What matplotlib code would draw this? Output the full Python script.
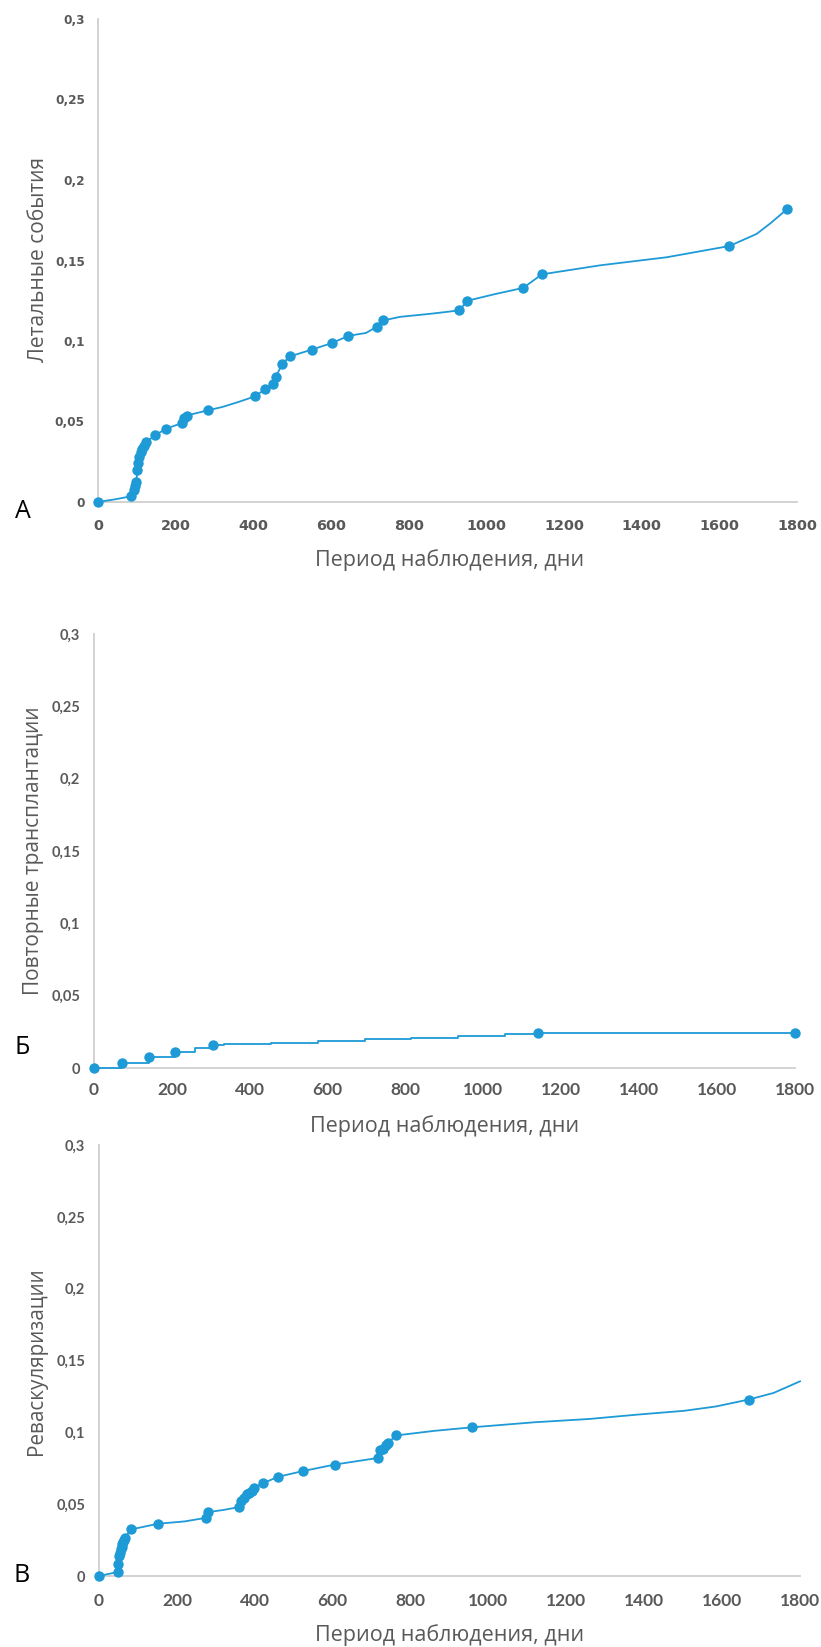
import matplotlib
matplotlib.use("Agg")
import matplotlib.pyplot as plt

# ---------------- data ----------------
x_ticks = [0, 200, 400, 600, 800, 1000, 1200, 1400, 1600, 1800]
y_ticks = [0, 0.05, 0.1, 0.15, 0.2, 0.25, 0.3]
y_tick_labels = ["0", "0,05", "0,1", "0,15", "0,2", "0,25", "0,3"]
x_label = "Период наблюдения, дни"

# Panel A – lethal events (curve and marked points)
a_line_t = [0, 45, 84, 93, 99, 101, 106, 110, 118, 123, 147, 175, 216, 222, 228, 284,
            320, 360, 404, 430, 450, 458, 475, 494, 550, 602, 645, 690, 718, 735,
            778, 860, 930, 951, 1020, 1095, 1143, 1293, 1464, 1626, 1696, 1731, 1775]
a_line_v = [0, 0.0017, 0.0035, 0.0075, 0.0126, 0.0199, 0.028, 0.031, 0.035, 0.037,
            0.0414, 0.0455, 0.049, 0.052, 0.0537, 0.057, 0.059, 0.062, 0.0656, 0.070,
            0.0733, 0.0778, 0.086, 0.0904, 0.0946, 0.0987, 0.1032, 0.105, 0.1088,
            0.1128, 0.115, 0.117, 0.119, 0.125, 0.129, 0.133, 0.1414, 0.147, 0.152,
            0.159, 0.1665, 0.173, 0.182]
a_mark_t = [0, 84, 93, 96, 99, 101, 104, 106, 110, 114, 118, 123, 147, 175, 216, 222,
            228, 284, 404, 430, 450, 458, 475, 494, 550, 602, 645, 718, 735, 930, 951,
            1095, 1143, 1626, 1775]
a_mark_v = [0, 0.0035, 0.0075, 0.010, 0.0126, 0.0199, 0.024, 0.028, 0.031, 0.033,
            0.035, 0.037, 0.0414, 0.0455, 0.049, 0.052, 0.0537, 0.057, 0.0656, 0.070,
            0.0733, 0.0778, 0.086, 0.0904, 0.0946, 0.0987, 0.1032, 0.1088, 0.1128,
            0.119, 0.125, 0.133, 0.1414, 0.159, 0.182]

# Panel Б – repeat transplantations (staircase)
b_line_t = [0, 72, 141, 209, 260, 306, 335, 455, 576, 695, 813, 935, 1056, 1140, 1800]
b_line_v = [0, 0.0037, 0.0078, 0.0113, 0.0135, 0.0159, 0.0165, 0.0175, 0.0187,
            0.0198, 0.021, 0.0223, 0.0234, 0.024, 0.024]
b_mark_t = [0, 72, 141, 209, 306, 1140, 1800]
b_mark_v = [0, 0.0037, 0.0078, 0.0113, 0.0159, 0.024, 0.024]

# Panel В – revascularizations
c_line_t = [0, 48, 50, 52, 56, 60, 64, 67, 82, 152, 220, 275, 281, 320, 360, 364,
            379, 392, 399, 420, 459, 523, 606, 717, 721, 730, 743, 762, 860, 958,
            1118, 1259, 1381, 1503, 1584, 1668, 1732, 1800]
c_line_v = [0, 0.0028, 0.0081, 0.0139, 0.0185, 0.022, 0.025, 0.0266, 0.0324, 0.0364,
            0.038, 0.0405, 0.0445, 0.046, 0.048, 0.052, 0.0568, 0.0595, 0.0614,
            0.0644, 0.069, 0.073, 0.0776, 0.0822, 0.0876, 0.0885, 0.0927, 0.0978,
            0.101, 0.1035, 0.107, 0.1093, 0.1123, 0.115, 0.118, 0.1228, 0.1274, 0.1355]
c_mark_t = [0, 48, 50, 52, 54, 56, 58, 60, 62, 64, 67, 82, 152, 275, 281, 360, 364,
            372, 379, 386, 392, 399, 420, 459, 523, 606, 717, 721, 730, 736, 743, 762,
            958, 1668]
c_mark_v = [0, 0.0028, 0.0081, 0.0139, 0.016, 0.0185, 0.020, 0.022, 0.0235, 0.025,
            0.0266, 0.0324, 0.0364, 0.0405, 0.0445, 0.048, 0.052, 0.054, 0.0568,
            0.058, 0.0595, 0.0614, 0.0644, 0.069, 0.073, 0.0776, 0.0822, 0.0876,
            0.0885, 0.091, 0.0927, 0.0978, 0.1035, 0.1228]

# ---------------- style ----------------
W, H = 821, 1647
BLUE = "#1E9AD6"
GREY = "#595959"
SPINE = "#CFCFCF"
LABEL_FONT = ["Open Sans", "DejaVu Sans"]

fig = plt.figure(figsize=(W / 100, H / 100), dpi=100)
fig.patch.set_facecolor("white")


def make_axes(left, right, top, bottom):
    return fig.add_axes([left / W, 1 - bottom / H, (right - left) / W, (bottom - top) / H])


def fit_text(x, y, s, target, rotation=0, **kw):
    t = fig.text(x / W, 1 - y / H, s, ha="center", va="center", rotation=rotation,
                 fontsize=12, **kw)
    r = fig.canvas.get_renderer()
    bb = t.get_window_extent(r)
    size = bb.height if rotation == 90 else bb.width
    t.set_fontsize(12 * target / size)
    return t


panels = [
    dict(rect=(98, 797, 19, 502), lt=a_line_t, lv=a_line_v, mt=a_mark_t, mv=a_mark_v,
         steps=False,
         ylabel="Летальные события", ylab_xy=(38, 260), ylab_len=205,
         xlab_xy=(450, 560), letter="А", letter_xy=(23, 511),
         tick_font=["DejaVu Sans"], ysize=8.7, xsize=10.4, ypad=9.5, xpad=12),
    dict(rect=(94, 795, 634, 1068), lt=b_line_t, lv=b_line_v, mt=b_mark_t, mv=b_mark_v,
         steps=True,
         ylabel="Повторные трансплантации", ylab_xy=(33, 851), ylab_len=289,
         xlab_xy=(445, 1126), letter="Б", letter_xy=(22, 1047),
         tick_font=["Lato", "DejaVu Sans"], ysize=10.5, xsize=12.5, ypad=10, xpad=10),
    dict(rect=(99, 800, 1145, 1576), lt=c_line_t, lv=c_line_v, mt=c_mark_t, mv=c_mark_v,
         steps=False,
         ylabel="Реваскуляризации", ylab_xy=(37, 1361), ylab_len=188,
         xlab_xy=(450, 1635), letter="В", letter_xy=(22, 1576),
         tick_font=["Lato", "DejaVu Sans"], ysize=10.5, xsize=12.5, ypad=10, xpad=12),
]

for p in panels:
    ax = make_axes(*p["rect"])
    ax.plot(p["lt"], p["lv"], drawstyle="steps-post" if p["steps"] else "default",
            color=BLUE, lw=1.3, clip_on=False, zorder=3)
    ax.plot(p["mt"], p["mv"], ls="none", marker="o", ms=7.5, color=BLUE,
            markeredgewidth=0, clip_on=False, zorder=4)
    ax.set_xlim(0, 1800)
    ax.set_ylim(0, 0.3)
    ax.set_xticks(x_ticks)
    ax.set_xticklabels([str(v) for v in x_ticks])
    ax.set_yticks(y_ticks)
    ax.set_yticklabels(y_tick_labels)
    for s in ("top", "right"):
        ax.spines[s].set_visible(False)
    for s in ("left", "bottom"):
        ax.spines[s].set_color(SPINE)
        ax.spines[s].set_linewidth(1.3)
    ax.tick_params(axis="both", length=0, colors=GREY)
    ax.tick_params(axis="y", pad=p["ypad"])
    ax.tick_params(axis="x", pad=p["xpad"])
    for lab in ax.get_yticklabels():
        lab.set_fontfamily(p["tick_font"])
        lab.set_fontweight("bold")
        lab.set_fontsize(p["ysize"])
    for lab in ax.get_xticklabels():
        lab.set_fontfamily(p["tick_font"])
        lab.set_fontweight("bold")
        lab.set_fontsize(p["xsize"])
    ax.set_facecolor("none")

    fit_text(p["xlab_xy"][0], p["xlab_xy"][1], x_label, 268, color=GREY,
             family=LABEL_FONT)
    fit_text(p["ylab_xy"][0], p["ylab_xy"][1], p["ylabel"], p["ylab_len"], rotation=90,
             color=GREY, family=LABEL_FONT)
    fig.text(p["letter_xy"][0] / W, 1 - p["letter_xy"][1] / H, p["letter"],
             ha="center", va="center", fontsize=18, color="black", family=LABEL_FONT)

fig.savefig("out.png", dpi=100, facecolor="white")
